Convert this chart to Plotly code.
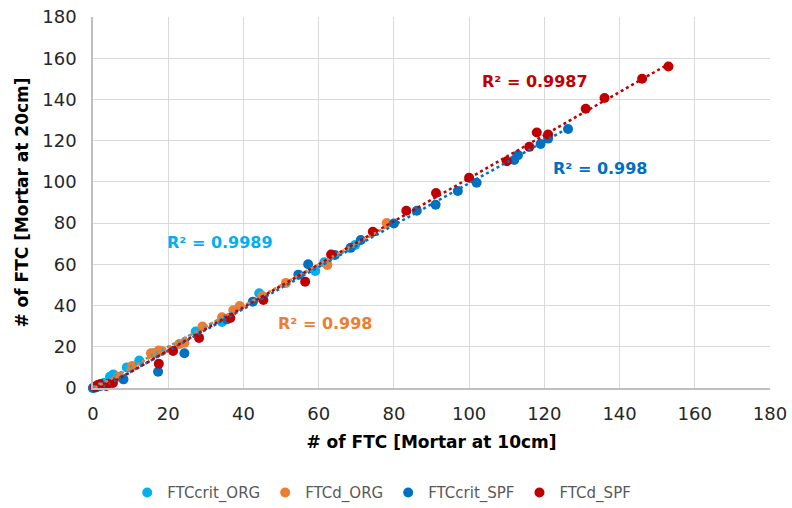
import numpy as np
import plotly.graph_objects as go

# FTCcrit_ORG
crit_org_x = [0, 1, 2, 3, 4.5, 5.4, 9, 12.3, 16.2, 27.3, 34.3, 44.2, 59.1, 61.5, 69.7]
crit_org_y = [0, 0.5, 1.5, 2.5, 5.4, 6.6, 10, 13.3, 16.9, 27.4, 32, 46, 56.8, 61, 69.4]
# FTCd_ORG
d_org_x = [0.5, 1.5, 3, 6.6, 10.4, 15.4, 17.5, 18.3, 23, 24.3, 29.1, 34.3, 37.3, 39, 45, 51.3, 62.3, 78.1]
d_org_y = [0.5, 1, 2, 5.4, 10.7, 16.9, 18.2, 18, 21.4, 22, 29.8, 34.3, 37.7, 39.8, 44.6, 51, 59.7, 80]
# FTCcrit_SPF
crit_spf_x = [0, 0.5, 1, 2, 5, 8.1, 17.3, 24.3, 35.6, 42.5, 54.6, 57.2, 64.3, 68.5, 71.2, 80, 86.1, 91.1,
              97, 102, 112, 113, 119, 121, 126.3]
crit_spf_y = [0, 0.2, 0.5, 1, 3, 4.2, 7.9, 16.9, 33.3, 41.9, 55, 60, 64.5, 68, 71.8, 79.8, 86, 88.9,
              95.6, 99.6, 110.6, 113, 118.4, 121, 125.7]
# FTCd_SPF
d_spf_x = [0.5, 1.3, 2, 2.7, 3.5, 4, 5.3, 17.5, 21.3, 28.2, 36.5, 45.3, 56.4, 63.3, 74.4, 83.3, 91.2,
           100, 110, 116, 118, 121, 131, 136, 146, 153]
d_spf_y = [0.5, 1.5, 2, 1.5, 1, 2, 2.4, 11.8, 18, 24.3, 34, 42.7, 51.6, 64.8, 75.8, 86, 94.6,
           102, 110, 117, 124, 123, 135.5, 140.7, 150, 156]

names = ["FTCcrit_ORG", "FTCd_ORG", "FTCcrit_SPF", "FTCd_SPF"]
colors = ["#00B0F0", "#ED7D31", "#0070C0", "#C00000"]
series = [(crit_org_x, crit_org_y), (d_org_x, d_org_y), (crit_spf_x, crit_spf_y), (d_spf_x, d_spf_y)]
r2_labels = ["R² = 0.9989", "R² = 0.998", "R² = 0.998", "R² = 0.9987"]
label_pos = [(33.8, 70.5), (61.7, 31.5), (134.8, 106.5), (117.5, 148.8)]

ticks = list(range(0, 181, 20))

fig = go.Figure()
for (x, y), n, c in zip(series, names, colors):
    fig.add_trace(go.Scatter(x=x, y=y, mode="markers", name=n,
                             marker=dict(color=c, size=10, line=dict(width=0)),
                             cliponaxis=False))
for (x, y), n, c in zip(series, names, colors):
    xa = np.array(x, dtype=float)
    ya = np.array(y, dtype=float)
    m, b = np.polyfit(xa, ya, 1)
    xs = [xa.min(), xa.max()]
    fig.add_trace(go.Scatter(x=xs, y=[m * v + b for v in xs], mode="lines",
                             line=dict(color=c, width=2.5, dash="dot"),
                             showlegend=False, hoverinfo="skip"))

for txt, (ax, ay), c in zip(r2_labels, label_pos, colors):
    fig.add_annotation(x=ax, y=ay, text="<b>%s</b>" % txt, showarrow=False,
                       font=dict(family="DejaVu Sans", size=16, color=c))

axis_common = dict(range=[0, 180], tickvals=ticks, ticktext=[str(t) for t in ticks],
                   showgrid=True, gridcolor="#D9D9D9", gridwidth=1,
                   showline=True, linecolor="#BFBFBF", linewidth=1.5,
                   zeroline=False, ticks="", automargin=False,
                   tickfont=dict(family="DejaVu Sans", size=18, color="#262626"))

fig.update_layout(
    width=792, height=508,
    margin=dict(l=93, r=22, t=17, b=120, autoexpand=False),
    paper_bgcolor="white", plot_bgcolor="white",
    xaxis=dict(**axis_common,
               title=dict(text="<b># of FTC [Mortar at 10cm]</b>", standoff=13,
                          font=dict(family="DejaVu Sans", size=17, color="#000000")),
               ticklabelstandoff=9),
    yaxis=dict(**axis_common,
               title=dict(text="<b># of FTC [Mortar at 20cm]</b>", standoff=9,
                          font=dict(family="DejaVu Sans", size=17, color="#000000")),
               ticklabelstandoff=11),
    legend=dict(orientation="h", xref="container", yref="container",
                x=0.482, xanchor="center", y=0.03, yanchor="middle",
                itemwidth=30, font=dict(family="DejaVu Sans", size=15, color="#595959")),
    showlegend=True,
)

fig.write_html("out.html")
